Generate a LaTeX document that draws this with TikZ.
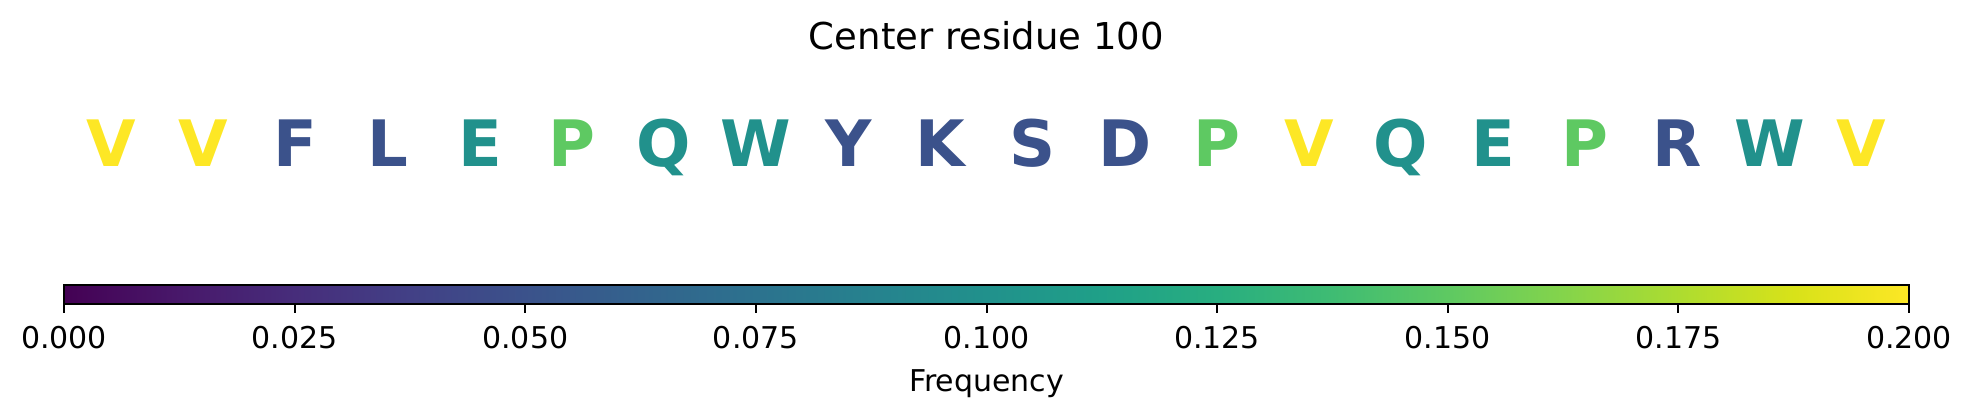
\documentclass[tikz,border=0pt]{standalone}
\usepackage{fontspec}
\setmainfont{DejaVu Sans}
\usepackage{xcolor}
\usetikzlibrary{calc}

\definecolor{virYellow}{HTML}{FDE725}
\definecolor{virGreen}{HTML}{5EC962}
\definecolor{virTeal}{HTML}{21918C}
\definecolor{virBlue}{HTML}{3B528B}

\pgfdeclarehorizontalshading{viridis}{100bp}{%
  rgb(0bp)=(0.267,0.004,0.329); rgb(25bp)=(0.267,0.004,0.329);
  rgb(28.125bp)=(0.282,0.094,0.416); rgb(31.25bp)=(0.278,0.176,0.482);
  rgb(34.375bp)=(0.259,0.251,0.525); rgb(37.5bp)=(0.231,0.322,0.545);
  rgb(40.625bp)=(0.200,0.388,0.553); rgb(43.75bp)=(0.173,0.447,0.557);
  rgb(46.875bp)=(0.149,0.510,0.557); rgb(50bp)=(0.129,0.569,0.549);
  rgb(53.125bp)=(0.122,0.627,0.533); rgb(56.25bp)=(0.157,0.682,0.502);
  rgb(59.375bp)=(0.247,0.737,0.451); rgb(62.5bp)=(0.369,0.788,0.384);
  rgb(65.625bp)=(0.518,0.831,0.294); rgb(68.75bp)=(0.678,0.863,0.188);
  rgb(71.875bp)=(0.847,0.886,0.098); rgb(75bp)=(0.992,0.906,0.145);
  rgb(100bp)=(0.992,0.906,0.145)}

\begin{document}
\begin{tikzpicture}[x=0.5pt, y=-0.5pt]
        \useasboundingbox (0,0) rectangle (1973,416);

        \node[anchor=base, font=\fontsize{18.5}{22}\selectfont] (title) at (986.5,50) {Center residue 100};

        \foreach \res/\col [count=\i from 0] in {V/virYellow, V/virYellow, F/virBlue, L/virBlue, E/virTeal,
                P/virGreen, Q/virTeal, W/virTeal, Y/virBlue, K/virBlue, S/virBlue, D/virBlue, P/virGreen,
                V/virYellow, Q/virTeal, E/virTeal, P/virGreen, R/virBlue, W/virTeal, V/virYellow}
        {
            \node[anchor=base, text=\col, font=\fontsize{32}{38}\selectfont\bfseries] (res\i) at ({111.5+92.1*\i},167) {\res};
        }

        \shade[shading=viridis] (64,285) rectangle (1909,304);
        \draw[line width=1pt] (64,285) rectangle (1909,304);

        \foreach \val [count=\i from 0] in {0.000,0.025,0.050,0.075,0.100,0.125,0.150,0.175,0.200}
        {
            \draw[line width=1pt] ({64+230.625*\i},304) -- ({64+230.625*\i},313);
            \node[anchor=base, font=\fontsize{15}{18}\selectfont] (tick\i) at ({64+230.625*\i},349) {\val};
        }

        \node[anchor=base, font=\fontsize{15}{18}\selectfont] (cblabel) at (986.5,391) {Frequency};
\end{tikzpicture}
\end{document}
